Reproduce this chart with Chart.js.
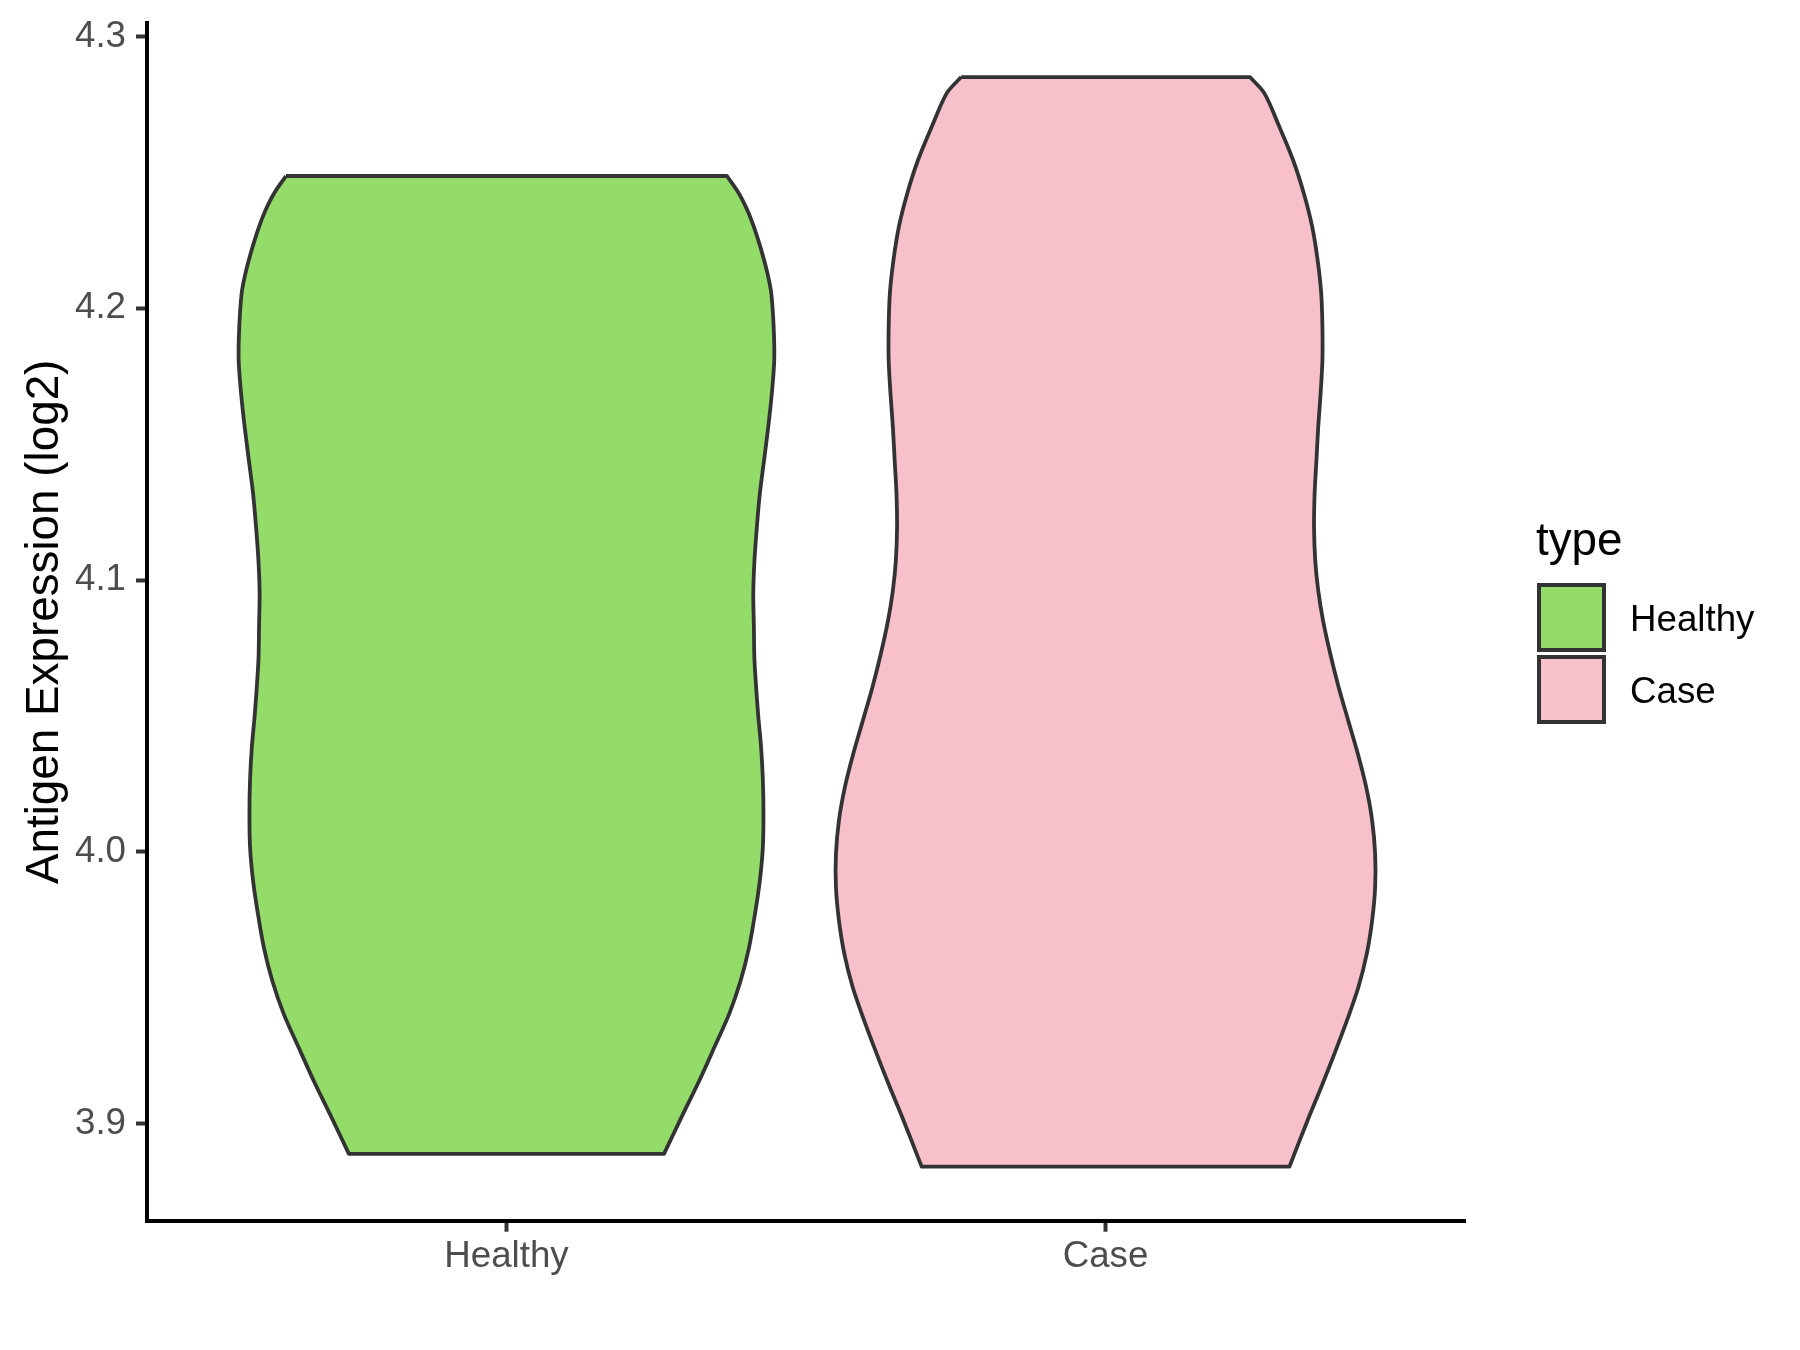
<!DOCTYPE html>
<html>
<head>
<meta charset="utf-8">
<script src="https://cdn.jsdelivr.net/npm/chart.js@4.4.1/dist/chart.umd.min.js"></script>
<style>
  html, body { margin: 0; padding: 0; background: #fff; }
  #wrap { width: 1800px; height: 1350px; }
</style>
</head>
<body>
<div id="wrap"><canvas id="chart" width="1800" height="1350"></canvas></div>
<script>
// categories and legend
var categories = ['Healthy', 'Case'];
var legendTitle = 'type';
var yTicks = [3.9, 4.0, 4.1, 4.2, 4.3];

// violin outlines: expression value and half width (in category units)
var healthyY = [4.2487, 4.2423, 4.2362, 4.2300, 4.2239, 4.2178, 4.2116, 4.2056, 4.1932, 4.1810,
  4.1688, 4.1564, 4.1441, 4.1320, 4.1196, 4.1073, 4.0952, 4.0828, 4.0705, 4.0509, 4.0386, 4.0264,
  4.0142, 4.0018, 3.9895, 3.9774, 3.9649, 3.9527, 3.9405, 3.9281, 3.9159, 3.9037, 3.8889];
var healthyWidth = [0.368, 0.388, 0.402, 0.413, 0.422, 0.430, 0.437, 0.442, 0.446, 0.447,
  0.443, 0.437, 0.430, 0.423, 0.418, 0.414, 0.412, 0.413, 0.414, 0.420, 0.425, 0.428,
  0.429, 0.428, 0.423, 0.415, 0.405, 0.391, 0.372, 0.347, 0.322, 0.295, 0.263];

var caseY = [4.2851, 4.2792, 4.2669, 4.2546, 4.2423, 4.2300, 4.2178, 4.2055, 4.1932, 4.1810, 4.1687,
  4.1564, 4.1441, 4.1319, 4.1196, 4.1073, 4.0962, 4.0852, 4.0730, 4.0607, 4.0484, 4.0362, 4.0239,
  4.0116, 3.9993, 3.9870, 3.9748, 3.9625, 3.9502, 3.9380, 3.9257, 3.9134, 3.9011, 3.8842];
var caseWidth = [0.241, 0.265, 0.290, 0.313, 0.331, 0.345, 0.354, 0.360, 0.362, 0.362, 0.359,
  0.355, 0.352, 0.349, 0.348, 0.350, 0.355, 0.363, 0.375, 0.389, 0.405, 0.421, 0.435,
  0.445, 0.450, 0.450, 0.445, 0.436, 0.422, 0.403, 0.382, 0.360, 0.337, 0.307];

var fontFamily = '"Liberation Sans", Arial, Helvetica, sans-serif';

// closed outline: down the left side, back up the right side.
// corner points are repeated so the smoothing keeps the flat ends straight
function outline(center, ys, ws) {
  var n = ys.length;
  var pts = [];
  pts.push({ x: center - ws[0], y: ys[0] });
  for (var i = 0; i < n; i++) pts.push({ x: center - ws[i], y: ys[i] });
  pts.push({ x: center - ws[n - 1], y: ys[n - 1] });
  pts.push({ x: center + ws[n - 1], y: ys[n - 1] });
  for (var j = n - 1; j >= 0; j--) pts.push({ x: center + ws[j], y: ys[j] });
  pts.push({ x: center + ws[0], y: ys[0] });
  pts.push({ x: center - ws[0], y: ys[0] });
  return pts;
}

function violin(label, center, ys, ws, fillColor) {
  return {
    label: label,
    data: outline(center, ys, ws),
    showLine: true,
    fill: 'shape',
    backgroundColor: fillColor,
    borderColor: '#333333',
    borderWidth: 3.8,
    borderJoinStyle: 'round',
    tension: 0.3,
    pointRadius: 0,
    pointHoverRadius: 0
  };
}

var typeLegend = {
  id: 'typeLegend',
  afterDraw: function (chart) {
    var ctx = chart.ctx;
    ctx.save();
    ctx.textBaseline = 'alphabetic';
    ctx.textAlign = 'left';
    ctx.fillStyle = '#000000';
    ctx.font = '45.8px ' + fontFamily;
    ctx.fillText(legendTitle, 1536, 555);
    chart.data.datasets.forEach(function (ds, i) {
      var top = 585 + i * 72;
      ctx.fillStyle = ds.backgroundColor;
      ctx.fillRect(1539, top, 65, 65);
      ctx.strokeStyle = '#333333';
      ctx.lineWidth = 4;
      ctx.strokeRect(1539, top, 65, 65);
      ctx.fillStyle = '#000000';
      ctx.font = '36.7px ' + fontFamily;
      ctx.fillText(ds.label, 1630, top + 46);
    });
    ctx.restore();
  }
};

var ctx = document.getElementById('chart');

var violinChart = new Chart(ctx, {
  type: 'scatter',
  data: {
    datasets: [
      violin(categories[0], 1, healthyY, healthyWidth, '#93DC6A'),
      violin(categories[1], 2, caseY, caseWidth, '#F7C0CB')
    ]
  },
  plugins: [typeLegend],
  options: {
    responsive: false,
    animation: false,
    devicePixelRatio: 1,
    layout: { padding: { top: 23, right: 335, left: 0, bottom: 0 } },
    plugins: {
      legend: { display: false },
      tooltip: { enabled: false }
    },
    scales: {
      x: {
        type: 'linear',
        position: 'bottom',
        min: 0.4,
        max: 2.6,
        afterBuildTicks: function (scale) {
          scale.ticks = categories.map(function (c, i) { return { value: i + 1 }; });
        },
        afterFit: function (scale) {
          scale.height = 129.3;
          scale.paddingLeft = 0;
          scale.paddingRight = 0;
        },
        ticks: {
          autoSkip: false,
          maxRotation: 0,
          padding: 3,
          color: '#4D4D4D',
          font: { family: fontFamily, size: 36.7 },
          callback: function (v) { return categories[Math.round(v) - 1]; }
        },
        grid: {
          display: true,
          drawOnChartArea: false,
          drawTicks: true,
          tickLength: 11,
          tickColor: '#333333',
          tickWidth: 4
        },
        border: { display: true, color: '#000000', width: 4 }
      },
      y: {
        type: 'linear',
        min: 3.8643,
        max: 4.3050,
        afterBuildTicks: function (scale) {
          scale.ticks = yTicks.map(function (v) { return { value: v }; });
        },
        afterFit: function (scale) {
          scale.width = 147;
          scale.paddingTop = 0;
          scale.paddingBottom = 0;
        },
        ticks: {
          padding: 10,
          color: '#4D4D4D',
          font: { family: fontFamily, size: 36.7 },
          callback: function (v) { return Number(v).toFixed(1); }
        },
        grid: {
          display: true,
          drawOnChartArea: false,
          drawTicks: true,
          tickLength: 11,
          tickColor: '#333333',
          tickWidth: 4
        },
        border: { display: true, color: '#000000', width: 4 },
        title: {
          display: true,
          text: 'Antigen Expression (log2)',
          color: '#000000',
          font: { family: fontFamily, size: 45.8 },
          padding: { top: 18, bottom: 0 }
        }
      }
    }
  }
});
</script>
</body>
</html>
